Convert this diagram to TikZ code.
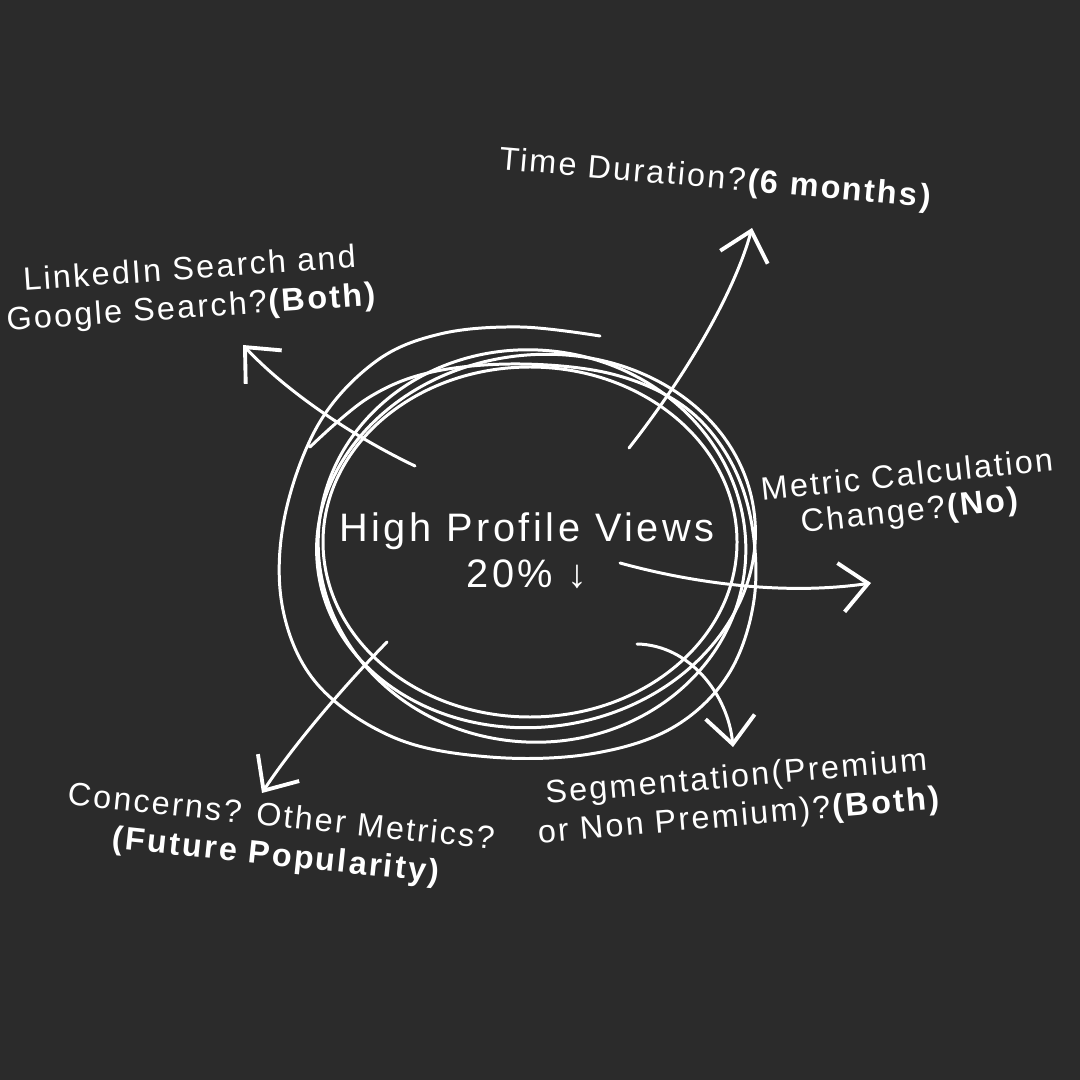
\documentclass[tikz,border=0pt]{standalone}
\usepackage{fontspec}
\setmainfont{Liberation Sans}
\newfontfamily\notefont[LetterSpace=7]{Liberation Sans}
\newfontfamily\hubfont[LetterSpace=9]{Liberation Sans}
\usepackage{tikz}
\usetikzlibrary{arrows.meta}
\definecolor{boardgray}{RGB}{43,43,43}
\tikzset{
  chalk/.style={draw=white,line width=0.85pt,line cap=round},
  chalkarr/.style={chalk,-{Straight Barb[length=7.8pt,width=14pt,line width=1.1pt]}},
  notelabel/.style={text=white,align=center,inner sep=0pt,font=\notefont\fontsize{9.2}{11}\selectfont},
  hublabel/.style={text=white,align=center,inner sep=0pt,font=\hubfont\fontsize{11.3}{13}\selectfont}
}

\begin{document}
\begin{tikzpicture}[x=0.01cm,y=-0.01cm]

  %% board
  \path[fill=boardgray] (0,0) rectangle (1080,1080);

  %% hub text
  \node[hublabel] (hub) at (527,551) {High Profile Views\\20\% ↓};

  %% loops round the hub
  \draw[chalk] (530,542) ellipse [x radius=207,y radius=175];
  \draw[chalk,rotate around={-6:(532,546)}] (532,546) ellipse [x radius=214,y radius=196];
  \draw[chalk,rotate around={8:(536,541)}] (536,541) ellipse [x radius=220,y radius=186];
  \draw[chalk] plot[smooth,tension=0.6] coordinates {(600,336) (520,327) (440,334) (375,362) (318,425)
    (284,520) (283,610) (318,685) (395,738) (490,757) (590,754) (672,728) (728,675) (754,600)
    (751,520) (727,455) (682,405) (612,374) (520,364) (432,372) (368,398) (310,447)};

  %% questions
  \node[notelabel,rotate=4] (linkedin) at (191,290)
    {LinkedIn Search and\\Google Search?\textbf{(Both)}};
  \node[notelabel,rotate=-5] (duration) at (716,180)
    {Time Duration?\textbf{(6 months)}};
  \node[notelabel,rotate=6,font=\notefont\fontsize{9.2}{10.2}\selectfont] (metric) at (909,495)
    {Metric Calculation\\Change?\textbf{(No)}};
  \node[notelabel,rotate=5] (segment) at (738,798)
    {Segmentation(Premium\\or Non Premium)?\textbf{(Both)}};
  \node[notelabel,rotate=-6] (concerns) at (279,838)
    {Concerns? Other Metrics?\\\textbf{(Future Popularity)}};

  %% arrow ends
  \coordinate (linkedinfrom) at (415,466);
  \coordinate (linkedintip) at (243,345);
  \coordinate (durationfrom) at (629,448);
  \coordinate (durationtip) at (752,228);
  \coordinate (metricfrom) at (620,563);
  \coordinate (metrictip) at (871,583);
  \coordinate (segmentfrom) at (637,644);
  \coordinate (segmenttip) at (733,747);
  \coordinate (concernsfrom) at (387,642);
  \coordinate (concernstip) at (262,793);

  \draw[chalkarr] (linkedinfrom) .. controls (350,435) and (285,390) .. (linkedintip);
  \draw[chalkarr] (durationfrom) .. controls (690,370) and (735,290) .. (durationtip);
  \draw[chalkarr] (metricfrom) .. controls (700,585) and (790,595) .. (metrictip);
  \draw[chalkarr] (segmentfrom) .. controls (690,645) and (728,695) .. (segmenttip);
  \draw[chalkarr] (concernsfrom) .. controls (340,690) and (290,750) .. (concernstip);
\end{tikzpicture}
\end{document}
